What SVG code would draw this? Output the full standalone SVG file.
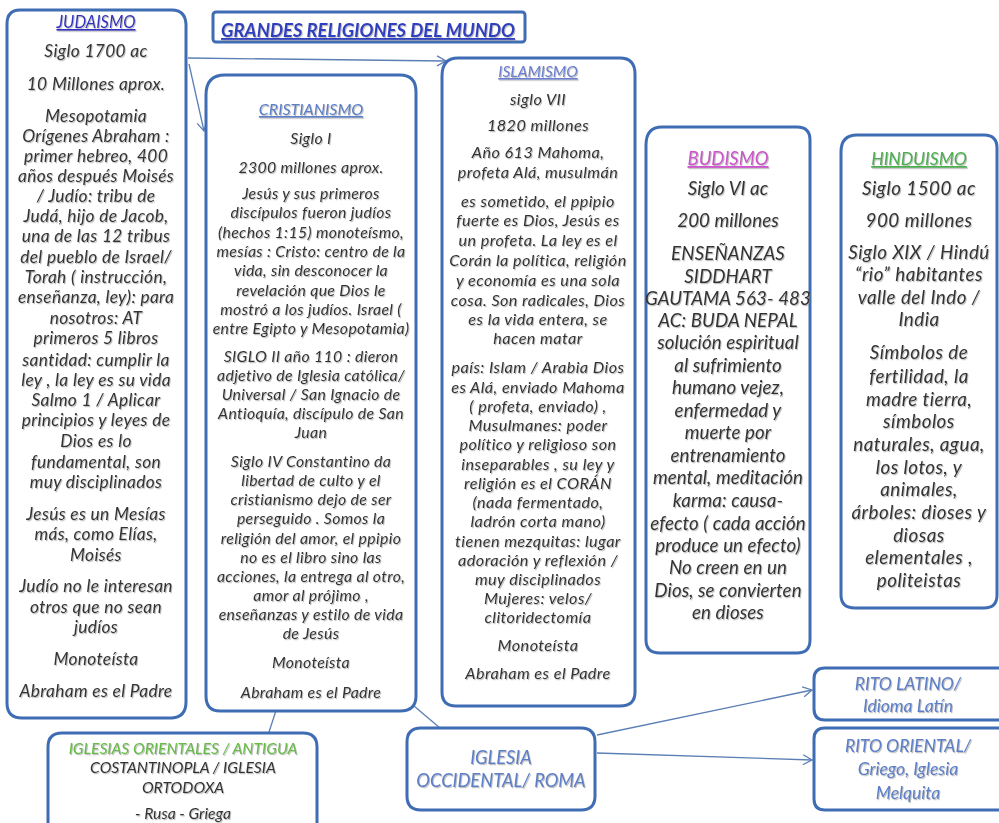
<svg xmlns="http://www.w3.org/2000/svg" width="999" height="823" viewBox="0 0 999 823">
<defs>
<filter id="sh" x="-5%" y="-5%" width="110%" height="110%"><feDropShadow dx="1" dy="1.2" stdDeviation="0.7" flood-color="#888" flood-opacity="0.55"/></filter>
<marker id="arr" markerWidth="12" markerHeight="12" refX="10" refY="6" orient="auto" markerUnits="userSpaceOnUse"><path d="M1,1 L10,6 L1,11" fill="none" stroke="#5b7fb5" stroke-width="1.3"/></marker>
<style>
.box{fill:#fff;stroke:#3f6db3;stroke-width:3}
.t{font-family:Lato,"Open Sans",sans-serif;font-style:italic;fill:#333;text-anchor:middle;filter:url(#sh)}
.h{text-decoration:underline}
.c{fill:none;stroke:#5b7fb5;stroke-width:1.3}
</style>
</defs>
<rect width="999" height="823" fill="#fff"/>

<g id="connectors">
<path class="c" d="M188,58 L446,61" marker-end="url(#arr)"/>
<path class="c" d="M189,64 L204,131" marker-end="url(#arr)"/>
<path class="c" d="M286,680 L268,735"/>
<path class="c" d="M388,684 L440,728"/>
<path class="c" d="M597,735 L812,690" marker-end="url(#arr)"/>
<path class="c" d="M597,753 L812,760" marker-end="url(#arr)"/>
</g>

<g id="title">
<rect class="box" x="213" y="12" width="312" height="30" rx="3" stroke-width="2.5"/>
<text class="t h" x="221" y="37" font-size="18.5" font-weight="bold" style="text-anchor:start;fill:#2f3fbf">GRANDES RELIGIONES DEL MUNDO</text>
</g>

<g id="judaismo">
<path class="box" d="M20,10 H172 Q185,10 186,24 V702 Q186,717 172,718 H22 Q7,718 7,703 V24 Q7,10 20,10 Z"/>
<g class="t" font-size="17.3" letter-spacing="0.35">
<text class="h" x="96" y="28" font-size="16.5" letter-spacing="0" style="fill:#3232c0">JUDAISMO</text>
<text x="96" y="57">Siglo 1700 ac</text>
<text x="96" y="90">10  Millones aprox.</text>
<text x="96" y="122">Mesopotamia</text>
<text x="96" y="142">Orígenes Abraham :</text>
<text x="96" y="162">primer hebreo, 400</text>
<text x="96" y="182">años después Moisés</text>
<text x="96" y="202">/  Judío: tribu de</text>
<text x="96" y="222">Judá, hijo de Jacob,</text>
<text x="96" y="242">una de las 12 tribus</text>
<text x="96" y="263">del pueblo de Israel/</text>
<text x="96" y="283">Torah ( instrucción,</text>
<text x="96" y="303">enseñanza, ley): para</text>
<text x="96" y="324">nosotros: AT</text>
<text x="96" y="344">primeros 5 libros</text>
<text x="96" y="366">santidad: cumplir la</text>
<text x="96" y="386">ley , la ley es su vida</text>
<text x="96" y="406">Salmo 1 / Aplicar</text>
<text x="96" y="426">principios y leyes de</text>
<text x="96" y="447">Dios es lo</text>
<text x="96" y="468">fundamental, son</text>
<text x="96" y="488">muy disciplinados</text>
<text x="96" y="520">Jesús es un Mesías</text>
<text x="96" y="540">más, como Elías,</text>
<text x="96" y="561">Moisés</text>
<text x="96" y="592">Judío no le interesan</text>
<text x="96" y="613">otros que no sean</text>
<text x="96" y="633">judíos</text>
<text x="96" y="665">Monoteísta</text>
<text x="96" y="697">Abraham es el Padre</text>
</g>
</g>

<g id="cristianismo">
<path class="box" d="M225,75 H400 Q416,75 416,92 V696 Q416,711 400,711 H220 Q206,711 206,696 V95 Q206,75 225,75 Z"/>
<g class="t" font-size="15.8" letter-spacing="0.35">
<text class="h" x="311" y="115" font-size="16" letter-spacing="0" style="fill:#5b7fc7">CRISTIANISMO</text>
<text x="311" y="144">Siglo I</text>
<text x="311" y="173">2300 millones aprox.</text>
<text x="311" y="199">Jesús y sus primeros</text>
<text x="311" y="218">discípulos fueron judíos</text>
<text x="311" y="238">(hechos 1:15)  monoteísmo,</text>
<text x="311" y="257">mesías : Cristo:  centro de la</text>
<text x="311" y="276">vida, sin desconocer la</text>
<text x="311" y="296">revelación que Dios le</text>
<text x="311" y="315">mostró a los judíos. Israel (</text>
<text x="311" y="334">entre Egipto y Mesopotamia)</text>
<text x="311" y="362">SIGLO II año 110 : dieron</text>
<text x="311" y="381">adjetivo de Iglesia católica/</text>
<text x="311" y="400">Universal / San Ignacio de</text>
<text x="311" y="419">Antioquía, discípulo de San</text>
<text x="311" y="438">Juan</text>
<text x="311" y="467">Siglo IV Constantino  da</text>
<text x="311" y="486">libertad de culto y el</text>
<text x="311" y="505">cristianismo dejo de ser</text>
<text x="311" y="524">perseguido . Somos la</text>
<text x="311" y="544">religión del amor, el ppipio</text>
<text x="311" y="563">no es el libro sino las</text>
<text x="311" y="582">acciones, la entrega al otro,</text>
<text x="311" y="601">amor al prójimo ,</text>
<text x="311" y="620">enseñanzas y estilo de vida</text>
<text x="311" y="639">de Jesús</text>
<text x="311" y="668">Monoteísta</text>
<text x="311" y="698">Abraham es el Padre</text>
</g>
</g>

<g id="islamismo">
<path class="box" d="M458,58 H620 Q635,58 635,74 V692 Q635,706 620,706 H456 Q442,706 442,692 V76 Q442,58 458,58 Z"/>
<g class="t" font-size="16.2" letter-spacing="0.45">
<text class="h" x="538" y="77" font-size="15.5" letter-spacing="0" style="fill:#6a7fd0">ISLAMISMO</text>
<text x="538" y="105">siglo VII</text>
<text x="538" y="131">1820 millones</text>
<text x="538" y="158">Año 613 Mahoma,</text>
<text x="538" y="178">profeta Alá,  musulmán</text>
<text x="538" y="207">es sometido, el ppipio</text>
<text x="538" y="226">fuerte es Dios, Jesús es</text>
<text x="538" y="246">un profeta. La ley es el</text>
<text x="538" y="266">Corán  la política, religión</text>
<text x="538" y="286">y economía es una sola</text>
<text x="538" y="306">cosa. Son radicales, Dios</text>
<text x="538" y="325">es la vida entera, se</text>
<text x="538" y="344">hacen matar</text>
<text x="538" y="373">país: Islam / Arabia  Dios</text>
<text x="538" y="393">es Alá, enviado Mahoma</text>
<text x="538" y="412">( profeta, enviado) ,</text>
<text x="538" y="431">Musulmanes: poder</text>
<text x="538" y="450">político y religioso son</text>
<text x="538" y="470">inseparables , su ley y</text>
<text x="538" y="489">religión es el CORÁN</text>
<text x="538" y="508">(nada fermentado,</text>
<text x="538" y="527">ladrón corta mano)</text>
<text x="538" y="547">tienen mezquitas: lugar</text>
<text x="538" y="566">adoración y reflexión /</text>
<text x="538" y="585">muy disciplinados</text>
<text x="538" y="604">Mujeres: velos/</text>
<text x="538" y="623">clitoridectomía</text>
<text x="538" y="651">Monoteísta</text>
<text x="538" y="679">Abraham es el Padre</text>
</g>
</g>

<g id="budismo">
<path class="box" d="M662,127 H797 Q810,127 810,140 V640 Q810,653 797,653 H660 Q646,653 646,640 V145 Q646,127 662,127 Z"/>
<g class="t" font-size="18.7" letter-spacing="0.1">
<text class="h" x="728" y="165" font-size="18.5" letter-spacing="0" style="fill:#cc55cc">BUDISMO</text>
<text x="728" y="195">Siglo VI ac</text>
<text x="728" y="227">200 millones</text>
<text x="728" y="260">ENSEÑANZAS</text>
<text x="728" y="283">SIDDHART</text>
<text x="728" y="305">GAUTAMA 563- 483</text>
<text x="728" y="327">AC: BUDA NEPAL</text>
<text x="728" y="349">solución espiritual</text>
<text x="728" y="372">al sufrimiento</text>
<text x="728" y="394">humano vejez,</text>
<text x="728" y="417">enfermedad y</text>
<text x="728" y="439">muerte  por</text>
<text x="728" y="462">entrenamiento</text>
<text x="728" y="484">mental, meditación</text>
<text x="728" y="507">karma: causa-</text>
<text x="728" y="530">efecto ( cada acción</text>
<text x="728" y="552">produce un efecto)</text>
<text x="728" y="574">No creen en un</text>
<text x="728" y="597">Dios, se convierten</text>
<text x="728" y="619">en dioses</text>
</g>
</g>

<g id="hinduismo">
<path class="box" d="M857,135 H984 Q997,135 997,148 V595 Q997,608 984,608 H855 Q841,608 841,595 V152 Q841,135 857,135 Z"/>
<g class="t" font-size="18.8" letter-spacing="0.5">
<text class="h" x="919" y="165" font-size="17.5" letter-spacing="0" style="fill:#4caf50">HINDUISMO</text>
<text x="919" y="195">Siglo 1500 ac</text>
<text x="919" y="227">900 millones</text>
<text x="919" y="259">Siglo XIX  / Hindú</text>
<text x="919" y="281">“rio” habitantes</text>
<text x="919" y="304">valle del Indo /</text>
<text x="919" y="326">India</text>
<text x="919" y="359">Símbolos de</text>
<text x="919" y="383">fertilidad, la</text>
<text x="919" y="406">madre tierra,</text>
<text x="919" y="428">símbolos</text>
<text x="919" y="451">naturales, agua,</text>
<text x="919" y="474">los lotos, y</text>
<text x="919" y="496">animales,</text>
<text x="919" y="519">árboles: dioses y</text>
<text x="919" y="542">diosas</text>
<text x="919" y="564">elementales ,</text>
<text x="919" y="587">politeistas</text>
</g>
</g>

<g id="iglesias-orientales">
<path class="box" d="M62,733 H303 Q317,733 317,747 V830 H48 V747 Q48,733 62,733 Z"/>
<g class="t" font-size="15.7">
<text x="183" y="754" style="fill:#66bb44">IGLESIAS ORIENTALES / ANTIGUA</text>
<text x="183" y="773">COSTANTINOPLA / IGLESIA</text>
<text x="183" y="793">ORTODOXA</text>
<text x="183" y="819">- Rusa - Griega</text>
</g>
</g>

<g id="iglesia-occidental">
<path class="box" d="M421,728 H581 Q595,728 595,742 V796 Q595,810 581,810 H421 Q407,810 407,796 V742 Q407,728 421,728 Z"/>
<g class="t" font-size="18.3">
<text x="501" y="764" style="fill:#5b7fc7">IGLESIA</text>
<text x="501" y="787" style="fill:#5b7fc7">OCCIDENTAL/ ROMA</text>
</g>
</g>

<g id="rito-latino">
<path class="box" d="M825,668 H1005 V720 H825 Q814,720 814,709 V679 Q814,668 825,668 Z"/>
<g class="t" font-size="17.5">
<text x="908" y="690" style="fill:#5b7fc7">RITO LATINO/</text>
<text x="908" y="712" style="fill:#5b7fc7">Idioma Latín</text>
</g>
</g>

<g id="rito-oriental">
<path class="box" d="M825,728 H1005 V810 H825 Q814,810 814,799 V739 Q814,728 825,728 Z"/>
<g class="t" font-size="17.5">
<text x="908" y="752" style="fill:#5b7fc7">RITO ORIENTAL/</text>
<text x="908" y="775" style="fill:#5b7fc7">Griego,  Iglesia</text>
<text x="908" y="799" style="fill:#5b7fc7">Melquita</text>
</g>
</g>
</svg>
